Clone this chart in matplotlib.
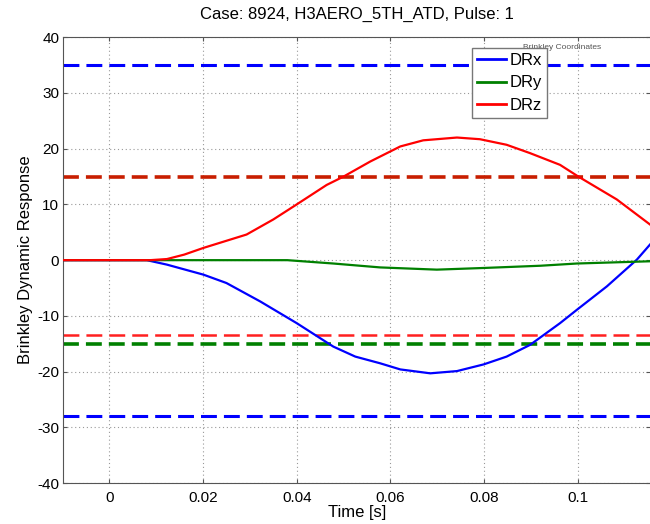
import matplotlib
matplotlib.use("Agg")
import matplotlib.pyplot as plt

plt.rcParams['font.family'] = ['Liberation Sans', 'DejaVu Sans']
plt.rcParams['axes.unicode_minus'] = False

# time samples (s)
t_x = [-0.01, 0.0, 0.008, 0.0123, 0.0201, 0.025, 0.0322, 0.040, 0.0478, 0.0525, 0.0578,
       0.0621, 0.0685, 0.0742, 0.0799, 0.0848, 0.0898, 0.0962, 0.0998, 0.1062, 0.1126, 0.1154]
drx = [0.0, 0.0, 0.0, -0.8, -2.6, -4.1, -7.4, -11.3, -15.5, -17.3, -18.5,
       -19.6, -20.3, -19.9, -18.7, -17.3, -15.2, -11.3, -8.9, -4.7, 0.1, 2.8]

t_y = [-0.01, 0.0, 0.008, 0.038, 0.0478, 0.0578, 0.0699, 0.0799, 0.092, 0.0998, 0.1154]
dry = [0.0, 0.0, 0.0, 0.0, -0.6, -1.3, -1.7, -1.4, -1.0, -0.6, -0.2]

t_z = [-0.01, 0.0, 0.0087, 0.0123, 0.016, 0.0201, 0.0293, 0.035, 0.040, 0.0464, 0.050,
       0.0557, 0.0621, 0.067, 0.0742, 0.0791, 0.0848, 0.0898, 0.0962, 0.1001, 0.1083, 0.1154]
drz = [0.0, 0.0, 0.0, 0.2, 1.0, 2.2, 4.6, 7.3, 10.0, 13.5, 15.0,
       17.7, 20.4, 21.5, 22.0, 21.7, 20.7, 19.2, 17.1, 15.0, 10.9, 6.4]

# limit lines: value, colour, width
limit_vals = [35, -28, 15, -13.5, -15]
limit_cols = ['#0000ff', '#0000ff', '#c81e00', '#ff2020', '#008000']
limit_lws = [2.2, 2.2, 2.6, 1.8, 2.6]

x_ticks = [0, 0.02, 0.04, 0.06, 0.08, 0.1]
x_labels = ['0', '0.02', '0.04', '0.06', '0.08', '0.1']
y_ticks = [-40, -30, -20, -10, 0, 10, 20, 30, 40]

fig = plt.figure(figsize=(6.5, 5.24), dpi=100)
ax = fig.add_axes([0.0975, 0.078, 0.9025, 0.851])

for v, c, lw in zip(limit_vals, limit_cols, limit_lws):
    ax.axhline(v, color=c, lw=lw, dashes=(5.2 * 2.2 / lw, 2.3 * 2.2 / lw), zorder=2)

l1, = ax.plot(t_x, drx, color='#0000ff', lw=1.6, label='DRx', zorder=3)
l2, = ax.plot(t_y, dry, color='#008000', lw=1.6, label='DRy', zorder=3)
l3, = ax.plot(t_z, drz, color='#ff0000', lw=1.6, label='DRz', zorder=3)

ax.set_xlim(-0.0098, 0.1154)
ax.set_ylim(-40, 40)
ax.set_xticks(x_ticks)
ax.set_xticklabels(x_labels)
ax.set_yticks(y_ticks)
ax.tick_params(direction='in', top=True, right=True, labelsize=11, length=3, color='#555555')
ax.tick_params(axis='x', pad=6)
ax.tick_params(axis='y', pad=3)
ax.grid(True, color='#999999', linestyle=(0, (1, 2.5)), lw=0.8)
for s in ax.spines.values():
    s.set_color('#555555')
ax.spines['right'].set_visible(False)

ax.set_title('Case: 8924, H3AERO_5TH_ATD, Pulse: 1', fontsize=12, pad=13)
ax.set_xlabel('Time [s]', fontsize=12, labelpad=0)
ax.set_ylabel('Brinkley Dynamic Response', fontsize=12, labelpad=3)

ax.text(0.85, 0.985, 'Brinkley Coordinates', transform=ax.transAxes, fontsize=6,
        color='#555555', ha='center', va='top', zorder=1)

leg = ax.legend(handles=[l1, l2, l3], loc='upper left', bbox_to_anchor=(0.697, 0.976),
                fontsize=12, labelspacing=0.45, handlelength=1.75, handletextpad=0.2,
                borderpad=0.3, borderaxespad=0, fancybox=False, framealpha=1,
                edgecolor='#777777')
leg.get_frame().set_linewidth(1.0)
for h in leg.get_lines():
    h.set_linewidth(2.0)
leg.set_zorder(5)

fig.savefig('out.png', dpi=100)
